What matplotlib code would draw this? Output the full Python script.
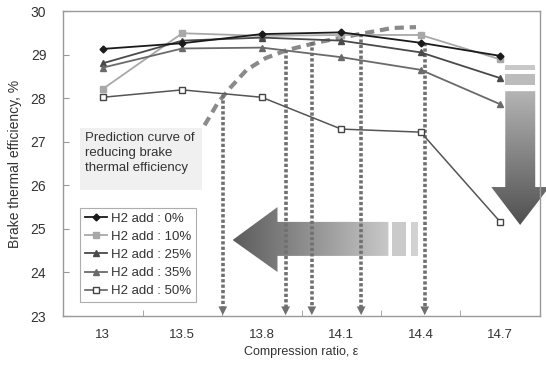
import numpy as np
import matplotlib
matplotlib.use("Agg")
import matplotlib.pyplot as plt
from matplotlib.patches import Polygon, Rectangle

plt.rcParams['font.family'] = ['Liberation Sans', 'DejaVu Sans']

# compression ratio categories
ratios = ["13", "13.5", "13.8", "14.1", "14.4", "14.7"]

# brake thermal efficiency, %
h2_0 = [29.13, 29.26, 29.47, 29.51, 29.27, 28.97]
h2_10 = [28.21, 29.49, 29.43, 29.45, 29.45, 28.89]
h2_25 = [28.80, 29.32, 29.39, 29.32, 29.05, 28.46]
h2_35 = [28.70, 29.14, 29.16, 28.94, 28.65, 27.86]
h2_50 = [28.02, 28.19, 28.02, 27.29, 27.22, 25.16]

labels = ["H2 add : 0%", "H2 add : 10%", "H2 add : 25%", "H2 add : 35%", "H2 add : 50%"]

# prediction curve (in category units / %)
curve_x = [1.28, 1.32, 1.45, 1.60, 1.81, 2.05, 2.31, 2.73, 3.23, 3.64, 3.94]
curve_y = [27.38, 27.50, 27.90, 28.23, 28.65, 28.92, 29.10, 29.29, 29.47, 29.61, 29.63]

# dotted drop lines: x position and top value
drop_x = [1.51, 2.30, 2.63, 3.25, 4.05]
drop_top = [28.07, 29.10, 29.29, 29.47, 29.27]

fig = plt.figure(figsize=(5.46, 3.72), dpi=100)
ax = fig.add_axes([0.1154, 0.1505, 0.8736, 0.8199])

x = np.arange(len(ratios))
ax.plot(x, h2_0, color='#1a1a1a', lw=1.3, marker='D', ms=3.5, label=labels[0], zorder=5)
ax.plot(x, h2_10, color='#a8a8a8', lw=1.3, marker='s', ms=5, label=labels[1], zorder=4)
ax.plot(x, h2_25, color='#4a4a4a', lw=1.3, marker='^', ms=5, label=labels[2], zorder=4)
ax.plot(x, h2_35, color='#6a6a6a', lw=1.3, marker='^', ms=5, label=labels[3], zorder=4)
ax.plot(x, h2_50, color='#555555', lw=1.1, marker='s', ms=4.5, mfc='white',
        mec='#444444', label=labels[4], zorder=4)

# prediction curve
ax.plot(curve_x, curve_y, color='#8a8a8a', lw=3, ls=(0, (2.2, 1.4)), zorder=3)

# dotted drop lines with small arrow heads
for dx, dt in zip(drop_x, drop_top):
    ax.plot([dx, dx], [dt, 23.2], color='#707070', lw=2.6, ls=(0, (0.9, 0.6)), zorder=3)
    ax.add_patch(Polygon([[dx - 0.055, 23.22], [dx + 0.055, 23.22], [dx, 23.02]],
                         closed=True, fc='#707070', ec='none', zorder=3))


def gradient_patch(verts, c0, c1, horizontal=True):
    poly = Polygon(verts, closed=True, fc='none', ec='none', zorder=2)
    ax.add_patch(poly)
    xs = [v[0] for v in verts]
    ys = [v[1] for v in verts]
    g = np.linspace(0, 1, 256)
    c0 = np.array(matplotlib.colors.to_rgb(c0))
    c1 = np.array(matplotlib.colors.to_rgb(c1))
    cols = c0[None, :] * (1 - g[:, None]) + c1[None, :] * g[:, None]
    if horizontal:
        img = cols[None, :, :]
    else:
        img = cols[:, None, :]
    im = ax.imshow(img, extent=[min(xs), max(xs), min(ys), max(ys)], origin='upper',
                   aspect='auto', zorder=2, interpolation='bilinear')
    im.set_clip_path(poly)
    return im


# big left arrow
left_arrow = [[1.633, 24.744], [2.198, 25.50], [2.198, 25.16], [3.593, 25.16],
              [3.593, 24.38], [2.198, 24.38], [2.198, 24.01]]
gradient_patch(left_arrow, '#5c5c5c', '#c8c8c8', horizontal=True)
ax.add_patch(Rectangle((3.643, 24.38), 0.176, 0.78, fc='#cacaca', ec='none', zorder=2))
ax.add_patch(Rectangle((3.882, 24.38), 0.088, 0.78, fc='#d2d2d2', ec='none', zorder=2))

# big down arrow
down_arrow = [[5.063, 28.16], [5.440, 28.16], [5.440, 25.96], [5.616, 25.96],
              [5.25, 25.09], [4.887, 25.96], [5.063, 25.96]]
im = gradient_patch(down_arrow, '#b4b4b4', '#505050', horizontal=False)
im.set_clip_box(fig.bbox)
ax.add_patch(Rectangle((5.063, 28.30), 0.377, 0.25, fc='#bcbcbc', ec='none', zorder=2))
ax.add_patch(Rectangle((5.063, 28.65), 0.377, 0.11, fc='#c8c8c8', ec='none', zorder=2))

# text box
ax.add_patch(Rectangle((0.036, 0.413), 0.255, 0.203, transform=ax.transAxes,
                       fc='#f0f0f0', ec='none', zorder=2))
ax.text(0.046, 0.604, "Prediction curve of\nreducing brake\nthermal efficiency",
        transform=ax.transAxes, ha='left', va='top', fontsize=9.5, color='#333333',
        linespacing=1.35, zorder=6)

leg = ax.legend(loc='lower left', bbox_to_anchor=(0.036, 0.046), fontsize=9.5,
                frameon=True, fancybox=False, edgecolor='#999999', borderpad=0.35,
                labelspacing=0.45, handlelength=1.7, handletextpad=0.3,
                borderaxespad=0)
leg.get_frame().set_linewidth(0.8)
for t in leg.get_texts():
    t.set_color('#333333')

ax.set_xlim(-0.5, 5.5)
ax.set_ylim(23, 30)
ax.set_xticks(x)
ax.set_xticklabels(ratios)
ax.set_xticks(np.arange(-0.5, 5.6, 1), minor=True)
ax.tick_params(axis='x', which='major', length=0, pad=9, labelsize=9.5, labelcolor='#333333')
ax.tick_params(axis='x', which='minor', direction='in', length=4, color='#999999')
ax.set_yticks(range(23, 31))
ax.tick_params(axis='y', direction='in', length=4, color='#999999', pad=12,
               labelsize=10, labelcolor='#333333')
for s in ax.spines.values():
    s.set_color('#999999')
    s.set_linewidth(1.0)

ax.set_xlabel("Compression ratio, \u03b5", fontsize=9, color='#333333', labelpad=4)
ax.set_ylabel("Brake thermal efficiency, %", fontsize=10, color='#333333', labelpad=6)

fig.savefig("out.png", dpi=100)
